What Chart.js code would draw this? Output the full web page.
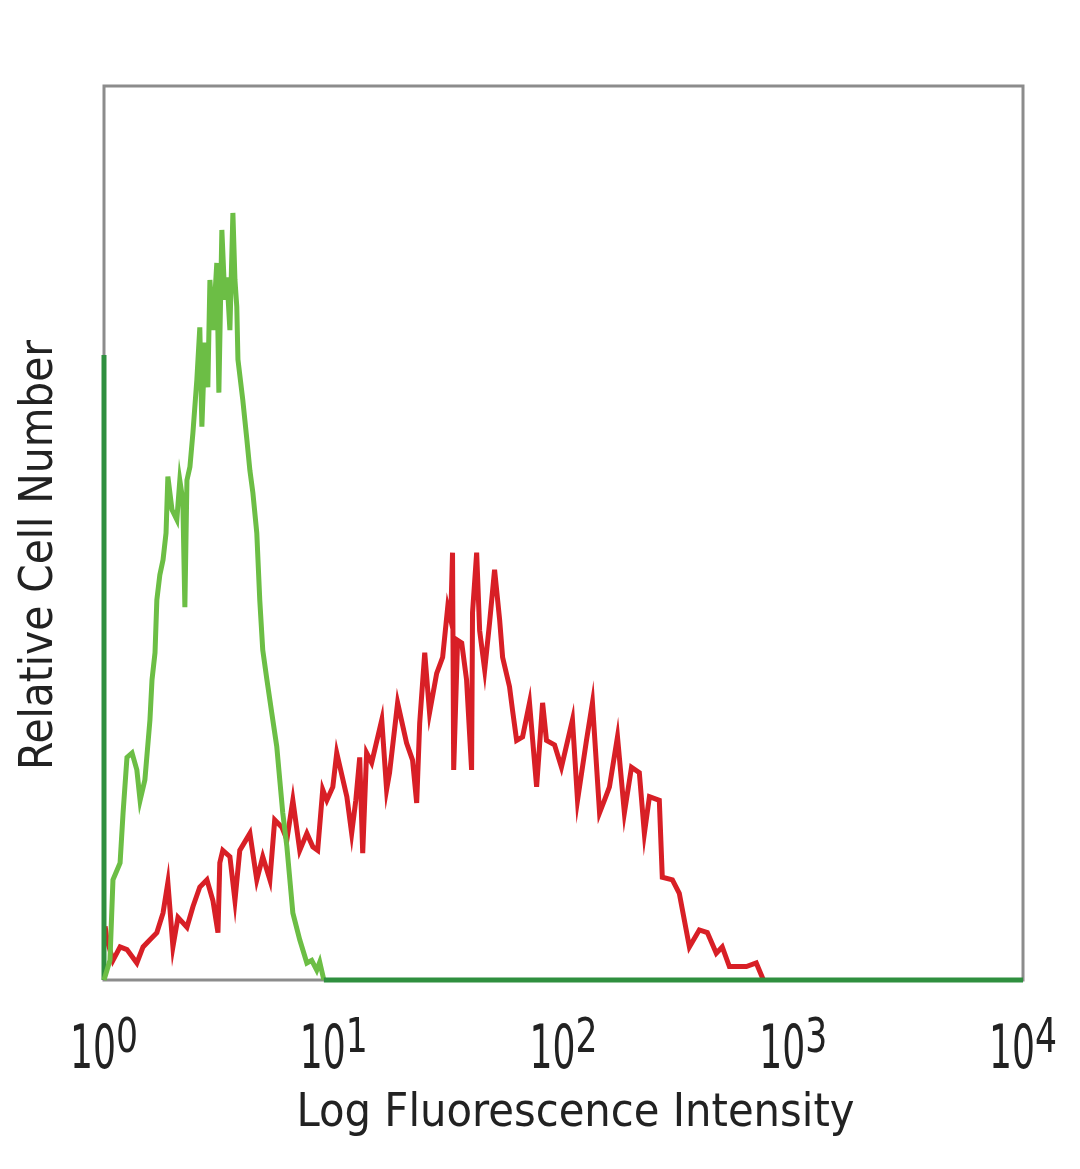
<!DOCTYPE html>
<html>
<head>
<meta charset="utf-8">
<script src="https://cdn.jsdelivr.net/npm/chart.js@4/dist/chart.umd.min.js"></script>
<style>
    html, body { margin: 0; padding: 0; background: #fff; }
    #wrap { width: 1080px; height: 1169px; }
</style>
</head>
<body>
<div id="wrap"><canvas id="histChart" width="1080" height="1169"></canvas></div>
<script>
// x values are log10 of fluorescence intensity, counts are relative (0-100)
const decades = [0, 1, 2, 3, 4];
const xTitle = 'Log Fluorescence Intensity';
const yTitle = 'Relative Cell Number';

const greenLogX = [0, 0, 0, 0.026, 0.039, 0.070, 0.083, 0.100, 0.122, 0.143, 0.157, 0.178, 0.200, 0.209, 0.222, 0.230,
    0.243, 0.257, 0.270, 0.278, 0.296, 0.317, 0.330, 0.343, 0.352, 0.361, 0.374, 0.387, 0.404, 0.417, 0.426, 0.439,
    0.452, 0.461, 0.474, 0.491, 0.500, 0.513, 0.526, 0.535, 0.548, 0.561, 0.570, 0.578, 0.583, 0.604, 0.622, 0.635,
    0.648, 0.665, 0.678, 0.691, 0.709, 0.730, 0.752, 0.765, 0.778, 0.796, 0.809, 0.822, 0.852, 0.883, 0.904, 0.926,
    0.939, 0.957, 4];
const greenCount = [0, 69.9, 0, 2.2, 11.2, 13.1, 18.7, 24.9, 25.4, 23.5, 20.1, 22.4, 29.1, 33.6, 36.6, 42.5,
    45.3, 47.0, 50.0, 56.3, 52.6, 51.5, 55.9, 53.7, 41.7, 55.9, 57.4, 61.2, 67.1, 73.0, 61.9, 71.3,
    66.3, 78.3, 72.7, 80.2, 65.7, 83.9, 76.1, 78.6, 72.7, 85.8, 78.3, 75.3, 69.4, 64.9, 60.4, 57.0,
    54.5, 50.0, 42.5, 36.9, 33.6, 29.9, 26.1, 22.4, 18.7, 14.9, 11.2, 7.5, 4.5, 1.9, 2.2, 1.1,
    2.0, 0, 0];

const redLogX = [0.005, 0.013, 0.039, 0.070, 0.100, 0.143, 0.170, 0.200, 0.230, 0.257, 0.278, 0.300, 0.322, 0.361,
    0.387, 0.417, 0.448, 0.474, 0.496, 0.504, 0.517, 0.548, 0.570, 0.591, 0.635, 0.665, 0.691, 0.722, 0.743, 0.774,
    0.796, 0.822, 0.852, 0.883, 0.909, 0.930, 0.952, 0.970, 0.996, 1.013, 1.057, 1.078, 1.096, 1.113, 1.126, 1.143,
    1.165, 1.209, 1.230, 1.243, 1.278, 1.317, 1.343, 1.361, 1.374, 1.396, 1.417, 1.448, 1.474, 1.496, 1.509, 1.517,
    1.522, 1.539, 1.557, 1.578, 1.600, 1.604, 1.622, 1.635, 1.657, 1.678, 1.700, 1.722, 1.735, 1.765, 1.778, 1.796,
    1.822, 1.852, 1.883, 1.909, 1.926, 1.961, 1.991, 2.039, 2.061, 2.100, 2.126, 2.157, 2.178, 2.200, 2.235, 2.265,
    2.296, 2.330, 2.352, 2.374, 2.417, 2.430, 2.474, 2.504, 2.548, 2.591, 2.626, 2.665, 2.691, 2.722, 2.796, 2.839,
    2.865, 2.870];
const redCount = [6.0, 4.5, 2.2, 3.7, 3.4, 1.9, 3.7, 4.5, 5.3, 7.5, 10.9, 3.7, 7.0, 5.9,
    8.2, 10.4, 11.2, 8.9, 5.3, 13.1, 14.5, 13.8, 8.9, 14.5, 16.4, 11.2, 13.8, 11.2, 17.9, 17.1,
    15.7, 20.1, 14.5, 16.4, 14.9, 14.5, 21.3, 20.1, 21.6, 25.4, 20.5, 16.4, 20.1, 24.9, 14.2, 25.4,
    24.3, 29.1, 21.3, 23.2, 31.0, 26.5, 24.6, 19.8, 28.7, 36.6, 29.9, 34.3, 36.1, 41.7, 40.3, 47.8,
    23.5, 38.0, 37.7, 33.6, 23.5, 41.1, 47.8, 39.1, 34.7, 39.9, 45.9, 40.3, 36.1, 32.8, 30.2, 26.8,
    27.2, 31.0, 21.6, 31.0, 26.8, 26.3, 23.8, 29.1, 20.1, 26.8, 31.0, 18.7, 20.1, 21.6, 27.2, 18.7,
    23.8, 23.2, 16.4, 20.5, 20.1, 11.5, 11.2, 9.7, 3.7, 5.6, 5.3, 3.0, 3.7, 1.5, 1.5, 1.9,
    0.3, 0];

const GREEN = '#6cbe45';
const GREEN_DARK = '#2f8f3f';
const RED = '#d81f26';
const FRAME = '#8c8c8c';
const FONT = '"DejaVu Sans", sans-serif';

const toPoints = (xs, ys) => xs.map((v, i) => ({ x: Math.pow(10, v), y: ys[i] }));

// draw text squeezed horizontally to a given width (original uses a narrow face)
function drawSqueezed(ctx, text, x, y, size, width, align) {
    ctx.font = size + 'px ' + FONT;
    const w = ctx.measureText(text).width;
    ctx.save();
    ctx.translate(x, y);
    ctx.scale(width / w, 1);
    ctx.textAlign = align || 'center';
    ctx.textBaseline = 'alphabetic';
    ctx.fillText(text, 0, 0);
    ctx.restore();
}

const framePlugin = {
    id: 'frame',
    beforeDatasetsDraw(chart) {
        const { ctx, chartArea: a } = chart;
        ctx.save();
        ctx.strokeStyle = FRAME;
        ctx.lineWidth = 3;
        ctx.strokeRect(a.left, a.top, a.right - a.left, a.bottom - a.top);
        ctx.restore();
    }
};

const labelPlugin = {
    id: 'labels',
    afterDraw(chart) {
        const { ctx, chartArea: a } = chart;
        const xs = chart.scales.x;
        ctx.save();
        ctx.fillStyle = '#222';
        decades.forEach(d => {
            const px = xs.getPixelForValue(Math.pow(10, d));
            const base = a.bottom + 88;
            drawSqueezed(ctx, '10', px - 34, base, 60, 46, 'left');
            drawSqueezed(ctx, String(d), px + 12, base - 16, 48, 22, 'left');
        });
        drawSqueezed(ctx, xTitle, (a.left + a.right) / 2 + 12, a.bottom + 146, 47, 558, 'center');
        ctx.save();
        ctx.translate(a.left - 52, 555);
        ctx.rotate(-Math.PI / 2);
        drawSqueezed(ctx, yTitle, 0, 0, 47, 430, 'center');
        ctx.restore();
        ctx.restore();
    }
};

const ctx = document.getElementById('histChart').getContext('2d');
new Chart(ctx, {
    type: 'line',
    data: {
        datasets: [
            {
                label: 'Stained', data: toPoints(greenLogX, greenCount),
                borderColor: GREEN, borderWidth: 5, pointRadius: 0, tension: 0, clip: false, order: 0,
                segment: {
                    borderColor: c => ((c.p0.parsed.y === 0 && c.p1.parsed.y === 0) ||
                        (c.p0.parsed.x === 1 && c.p1.parsed.x === 1)) ? GREEN_DARK : undefined
                }
            },
            {
                label: 'Control', data: toPoints(redLogX, redCount),
                borderColor: RED, borderWidth: 5, pointRadius: 0, tension: 0, clip: false, order: 1
            }
        ]
    },
    options: {
        responsive: false, animation: false,
        layout: { padding: { left: 104, top: 86, right: 57, bottom: 189 } },
        plugins: { legend: { display: false }, tooltip: { enabled: false } },
        scales: {
            x: { type: 'logarithmic', min: 1, max: 10000, display: false },
            y: { type: 'linear', min: 0, max: 100, display: false }
        }
    },
    plugins: [framePlugin, labelPlugin]
});
</script>
</body>
</html>
